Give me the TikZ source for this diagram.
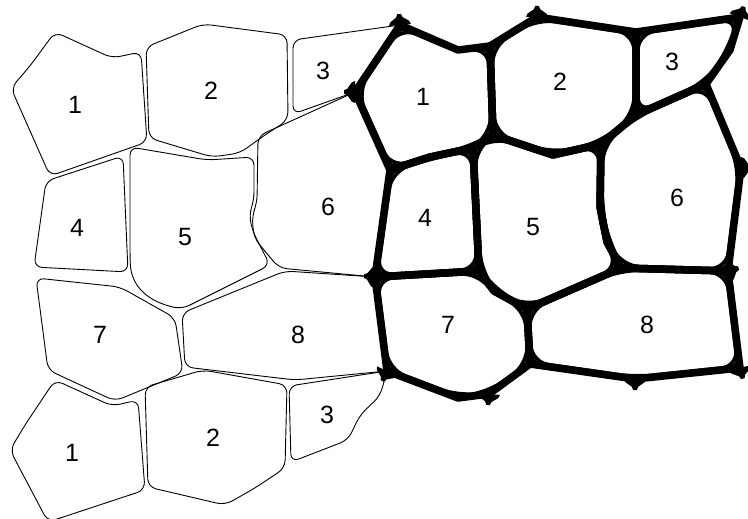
\documentclass[tikz,border=0pt]{standalone}
\usepackage{fontspec}
\setmainfont{Liberation Sans}
\tikzset{
  thincell/.style={draw=black, line width=0.9pt, rounded corners=8pt},
  wallline/.style={line width=7.5pt, line join=round},
  cellnum/.style={font=\fontsize{25}{30}\selectfont, inner sep=0pt},
}
% little flared wall end at the border of the thick network
\newcommand\wallstub[2]{%
  \fill[shift={(#1)}, rotate=#2] (0,-11) to[out=0,in=180] (11,-1.8) -- (11,1.8) to[out=180,in=0] (0,11) -- cycle;}
\begin{document}
\begin{tikzpicture}[x=1pt,y=-1pt]
\useasboundingbox (0,0) rectangle (748,519);

% junctions of the thick wall network
\coordinate (j1) at (400,25);
\coordinate (ja) at (458,50);
\coordinate (j2) at (490,46);
\coordinate (j3) at (537,17);
\coordinate (j4) at (636,32);
\coordinate (j5) at (740,17);
\coordinate (jg) at (730,50);
\coordinate (j6) at (706,84);
\coordinate (j7) at (636,115);
\coordinate (j8) at (601,144);
\coordinate (jb) at (553,155);
\coordinate (j9) at (493,135);
\coordinate (j10) at (473,148);
\coordinate (jc) at (430,157);
\coordinate (j11) at (390,170);
\coordinate (j12) at (355,92);
\coordinate (j13) at (479,271);
\coordinate (jd) at (494,291);
\coordinate (j14) at (527,309);
\coordinate (j15) at (375,277);
\coordinate (j16) at (530,364);
\coordinate (j17) at (489,394);
\coordinate (je) at (458,398);
\coordinate (j18) at (387,371);
\coordinate (j19) at (621,268);
\coordinate (j20) at (728,271);
\coordinate (j21) at (740,368);
\coordinate (j22) at (635,379);
\coordinate (j23) at (741,168);
\coordinate (jf) at (600,207);
\coordinate (jh) at (607,242);

% thin cells on the left
\draw[thincell] (55,32) -- (112,58) -- (141,52) -- (147,142) -- (50,176) -- (11,88) -- (30,66) -- cycle;
\draw[thincell] (146,47) -- (203,24) -- (287,35) -- (288,120) -- (262,137) -- (240,153) -- (212,157) -- (149,138) -- cycle;
\draw[thincell] (j1) -- (293,40) -- (293,114) -- (j12);
\draw[thincell] (46,181) -- (123,156) -- (128,272) -- (34,267) -- cycle;
\draw[thincell] (130,200) -- (130,147) -- (207,160) -- (254,157) -- (254,200) -- (249,215) -- (253,232) -- (270,265) -- (182,309) .. controls (150,302) and (131,288) .. (130,255) -- cycle;
\draw[thincell] (j12) -- (258,136) -- (257,203) -- (252,216) -- (254,238) -- (279,268) -- (j15);
\draw[thincell] (36,278) -- (120,287) -- (175,318) -- (183,373) -- (115,401) -- (48,370) -- cycle;
\draw[thincell] (j15) -- (285,271) -- (182,313) -- (185,367) -- (295,380) -- (j18);
\draw[thincell] (55,380) -- (112,406) -- (138,400) -- (145,490) -- (48,522) -- (10,450) -- (25,425) -- cycle;
\draw[thincell] (145,387) -- (203,370) -- (287,385) -- (285,468) -- (255,488) -- (225,505) -- (148,487) -- cycle;
\draw[thincell] (j18) -- (289,386) -- (291,462) -- (348,440) -- (360,415) -- (380,396) -- (j18);

% thick walls on the right
\def\cellA{(j1) -- (ja) -- (j2) -- (j9) -- (j10) -- (jc) -- (j11) -- (j12) -- cycle}
\def\cellB{(j2) -- (j3) -- (j4) -- (j7) -- (j8) -- (jb) -- (j9) -- cycle}
\def\cellC{(j4) -- (j5) -- (jg) -- (j6) -- (j7) -- cycle}
\def\cellD{(j11) -- (jc) -- (j10) -- (j13) -- (j15) -- cycle}
\def\cellE{(j10) -- (j9) -- (jb) -- (j8) -- (jf) -- (jh) -- (j19) -- (j14) -- (jd) -- (j13) -- cycle}
\def\cellF{(j8) -- (j7) -- (j6) -- (j23) -- (j20) -- (j19) -- (jh) -- (jf) -- cycle}
\def\cellG{(j15) -- (j13) -- (jd) -- (j14) -- (j16) -- (j17) -- (je) -- (j18) -- cycle}
\def\cellH{(j14) -- (j19) -- (j20) -- (j21) -- (j22) -- (j16) -- cycle}
\foreach \wallpath in {\cellA,\cellB,\cellC,\cellD,\cellE,\cellF,\cellG,\cellH}
  \fill \wallpath;
\foreach \wallpath in {\cellA,\cellB,\cellC,\cellD,\cellE,\cellF,\cellG,\cellH}{
  \begin{scope}
    \clip[rounded corners=18pt] \wallpath;
    \fill[white] \wallpath;
    \draw[line width=7.5pt, rounded corners=18pt] \wallpath;
  \end{scope}}
\foreach \wallpath in {\cellA,\cellB,\cellC,\cellD,\cellE,\cellF,\cellG,\cellH}
  \draw[wallline] \wallpath;
\foreach \J/\A in {j1/95,j3/90,j5/70,j12/180,j15/175,j23/0,j20/15,j21/-75,j22/-90,j17/-95,j18/-115}
  \wallstub{\J}{\A};

% numbers
\node[cellnum] (l1) at (75,105) {1};
\node[cellnum] (l2) at (211,91) {2};
\node[cellnum] (l3) at (323,71) {3};
\node[cellnum] (l4) at (77,228) {4};
\node[cellnum] (l5) at (185,237) {5};
\node[cellnum] (l6) at (328,207) {6};
\node[cellnum] (l7) at (100,335) {7};
\node[cellnum] (l8) at (298,335) {8};
\node[cellnum] (lb1) at (72,453) {1};
\node[cellnum] (lb2) at (213,438) {2};
\node[cellnum] (lb3) at (327,415) {3};
\node[cellnum] (r1) at (423,97) {1};
\node[cellnum] (r2) at (560,82) {2};
\node[cellnum] (r3) at (672,62) {3};
\node[cellnum] (r4) at (425,218) {4};
\node[cellnum] (r5) at (533,227) {5};
\node[cellnum] (r6) at (677,198) {6};
\node[cellnum] (r7) at (448,325) {7};
\node[cellnum] (r8) at (647,325) {8};
\end{tikzpicture}
\end{document}
